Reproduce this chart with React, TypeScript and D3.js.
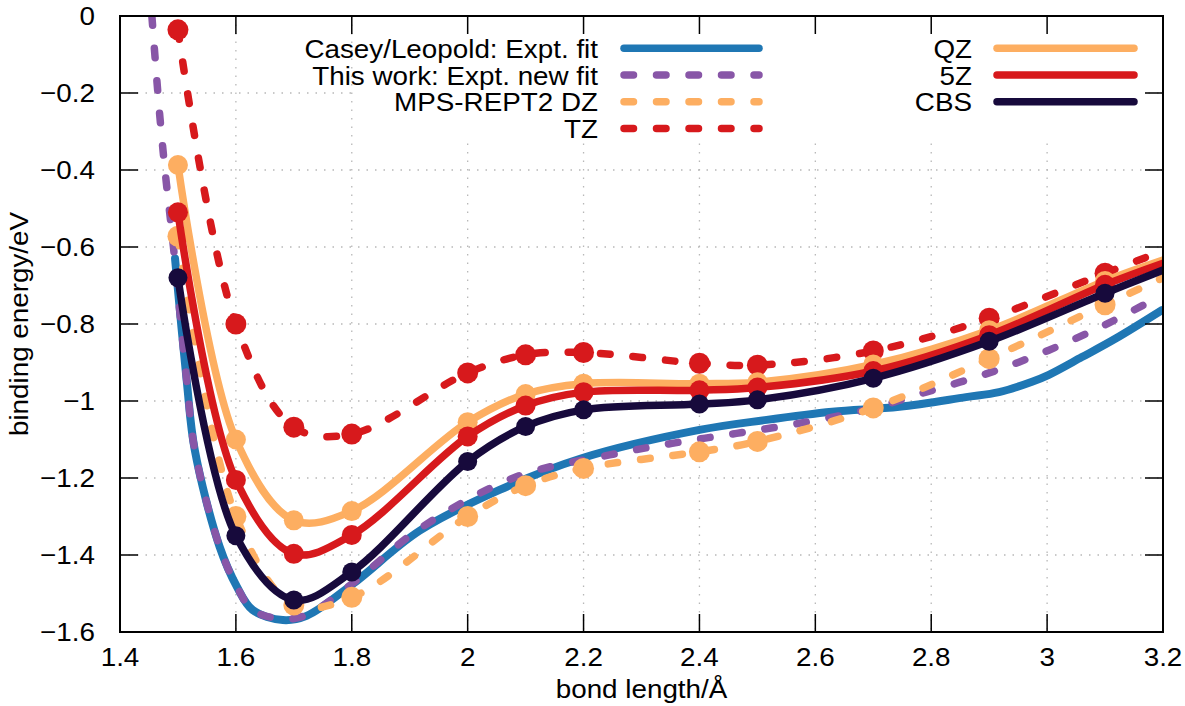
import * as d3 from "d3";

// bond lengths (Å) where the MPS-REPT2 energies were computed
const bondLengths = [1.5, 1.6, 1.7, 1.8, 2.0, 2.1, 2.2, 2.4, 2.5, 2.7, 2.9, 3.1];

// binding energies (eV) for each basis set
const dzEnergies = [-0.572, -1.3, -1.53, -1.51, -1.3, -1.22, -1.175, -1.132, -1.105, -1.018, -0.89, -0.75];
const tzEnergies = [-0.036, -0.8, -1.068, -1.086, -0.927, -0.88, -0.874, -0.902, -0.907, -0.87, -0.785, -0.668];
const qzEnergies = [-0.387, -1.1, -1.31, -1.286, -1.055, -0.982, -0.955, -0.955, -0.951, -0.905, -0.816, -0.688];
const fiveZEnergies = [-0.51, -1.205, -1.397, -1.348, -1.092, -1.012, -0.977, -0.972, -0.965, -0.922, -0.829, -0.698];
const cbsEnergies = [-0.68, -1.35, -1.517, -1.444, -1.157, -1.066, -1.023, -1.008, -0.997, -0.941, -0.845, -0.72];

// where the smooth curves end on the right border (x = 3.2)
const curveEndX = 3.2;
const dzEnd = -0.68;
const tzEnd = -0.61;
const qzEnd = -0.634;
const fiveZEnd = -0.642;
const cbsEnd = -0.66;

const caseyFit: [number, number][] = [
  [1.495, -0.63], [1.515, -0.945], [1.529, -1.127], [1.572, -1.379], [1.602, -1.483],
  [1.629, -1.543], [1.681, -1.569], [1.722, -1.558], [1.802, -1.475], [1.917, -1.337],
  [2.055, -1.231], [2.198, -1.148], [2.4, -1.075], [2.516, -1.049], [2.629, -1.028],
  [2.745, -1.015], [2.86, -0.99], [2.917, -0.977], [2.974, -0.95], [3.003, -0.932],
  [3.06, -0.886], [3.119, -0.837], [3.198, -0.764],
];
const newFit: [number, number][] = [
  [1.455, 0], [1.469, -0.265], [1.48, -0.434], [1.491, -0.582], [1.515, -0.945],
  [1.529, -1.127], [1.572, -1.379], [1.602, -1.483], [1.629, -1.543], [1.681, -1.566],
  [1.722, -1.556], [1.802, -1.473], [1.917, -1.332], [2.084, -1.197], [2.245, -1.14],
  [2.353, -1.11], [2.464, -1.084], [2.572, -1.058], [2.688, -1.023], [2.791, -0.977],
  [2.9, -0.927], [3.003, -0.868], [3.107, -0.797], [3.198, -0.725],
];

const xTicks = [1.4, 1.6, 1.8, 2.0, 2.2, 2.4, 2.6, 2.8, 3.0, 3.2];
const yTicks = [0, -0.2, -0.4, -0.6, -0.8, -1.0, -1.2, -1.4, -1.6];

const BLUE = "#1f77b4";
const PURPLE = "#8856a7";
const ORANGE = "#fdae61";
const RED = "#d7191c";
const NAVY = "#170a3c";

const FONT = "'Liberation Sans', Arial, Helvetica, sans-serif";
const FS = 26;
const STRETCH = 1.07;

const W = 1185;
const H = 706;
const left = 120, right = 1163, top = 16, bottom = 632;

const x = d3.scaleLinear().domain([1.4, 3.2]).range([left, right]);
const y = d3.scaleLinear().domain([-1.6, 0]).range([bottom, top]);

const line = d3.line<[number, number]>()
  .x(d => x(d[0]))
  .y(d => y(d[1]))
  .curve(d3.curveCatmullRom.alpha(0.5));

const zip = (xs: number[], ys: number[]) => xs.map((v, i) => [v, ys[i]] as [number, number]);
const withEnd = (ys: number[], end: number) => [...zip(bondLengths, ys), [curveEndX, end] as [number, number]];

function fmtX(v: number) {
  return String(+v.toFixed(1));
}
function fmtY(v: number) {
  if (v === 0) return "0";
  return "\u2212" + String(+Math.abs(v).toFixed(1));
}

function Txt({ x: tx, y: ty, anchor = "start", rotate = 0, children }: any) {
  return (
    <text
      transform={`translate(${tx},${ty}) rotate(${rotate}) scale(${STRETCH},1)`}
      textAnchor={anchor}
      fontFamily={FONT}
      fontSize={FS}
      fill="#000"
    >
      {children}
    </text>
  );
}

const DASH = "9.5 23";

const models = [
  { name: "MPS-REPT2 DZ", color: ORANGE, dashed: true, pts: dzEnergies, end: dzEnd, r: 10.5 },
  { name: "TZ", color: RED, dashed: true, pts: tzEnergies, end: tzEnd, r: 10.5 },
  { name: "QZ", color: ORANGE, dashed: false, pts: qzEnergies, end: qzEnd, r: 10 },
  { name: "5Z", color: RED, dashed: false, pts: fiveZEnergies, end: fiveZEnd, r: 10 },
  { name: "CBS", color: NAVY, dashed: false, pts: cbsEnergies, end: cbsEnd, r: 9.5 },
];

const leftKey = [
  { name: "Casey/Leopold: Expt. fit", color: BLUE, dashed: false },
  { name: "This work: Expt. new fit", color: PURPLE, dashed: true },
  { name: "MPS-REPT2 DZ", color: ORANGE, dashed: true },
  { name: "TZ", color: RED, dashed: true },
];
const rightKey = [
  { name: "QZ", color: ORANGE, dashed: false },
  { name: "5Z", color: RED, dashed: false },
  { name: "CBS", color: NAVY, dashed: false },
];

export default function App() {
  const tick = 18;
  const rowY = (i: number) => 48.3 + i * 26.7;
  return (
    <svg
      width={W}
      height={H}
      style={{ position: "absolute", left: 0, top: 0, background: "#fff" }}
    >
      <defs>
        <clipPath id="plot-clip">
          <rect x={left} y={top} width={right - left} height={bottom - top} />
        </clipPath>
      </defs>
      <rect x={0} y={0} width={W} height={H} fill="#fff" />

      {/* grid */}
      <g stroke="#b8b8b8" strokeWidth={1.3} strokeDasharray="1.5 7">
        {xTicks.slice(1, -1).map(t => (
          <line key={"gx" + t} x1={x(t)} x2={x(t)} y1={top} y2={bottom} />
        ))}
        {yTicks.slice(1, -1).map(t => (
          <line key={"gy" + t} x1={left} x2={right} y1={y(t)} y2={y(t)} />
        ))}
      </g>

      {/* opaque key box */}
      <rect x={354} y={top + 1} width={1143 - 354} height={126} fill="#fff" />

      <g clipPath="url(#plot-clip)" fill="none" strokeLinecap="round" strokeLinejoin="round">
        <path d={line(caseyFit) || ""} stroke={BLUE} strokeWidth={8} />
        <path d={line(newFit) || ""} stroke={PURPLE} strokeWidth={7.5} strokeDasharray={DASH} />
        {models.map(m => (
          <g key={m.name}>
            <path
              d={line(withEnd(m.pts, m.end)) || ""}
              stroke={m.color}
              strokeWidth={7.5}
              strokeDasharray={m.dashed ? DASH : undefined}
            />
            {zip(bondLengths, m.pts).map(([bx, e]) => (
              <circle key={bx} cx={x(bx)} cy={y(e)} r={m.r} fill={m.color} stroke="none" />
            ))}
          </g>
        ))}
      </g>

      {/* key */}
      <g strokeLinecap="round" fill="none">
        {leftKey.map((k, i) => (
          <g key={k.name}>
            <line x1={624} x2={759} y1={rowY(i)} y2={rowY(i)} stroke={k.color} strokeWidth={7.5}
              strokeDasharray={k.dashed ? DASH : undefined} />
          </g>
        ))}
        {rightKey.map((k, i) => (
          <line key={k.name} x1={997} x2={1134} y1={rowY(i)} y2={rowY(i)} stroke={k.color} strokeWidth={7.5} />
        ))}
      </g>
      {leftKey.map((k, i) => (
        <Txt key={k.name} x={598} y={rowY(i) + 9.5} anchor="end">{k.name}</Txt>
      ))}
      {rightKey.map((k, i) => (
        <Txt key={k.name} x={972} y={rowY(i) + 9.5} anchor="end">{k.name}</Txt>
      ))}

      {/* ticks */}
      <g stroke="#000" strokeWidth={1.5}>
        {xTicks.map(t => (
          <g key={"tx" + t}>
            <line x1={x(t)} x2={x(t)} y1={bottom} y2={bottom - tick} />
            <line x1={x(t)} x2={x(t)} y1={top} y2={top + tick} />
          </g>
        ))}
        {yTicks.map(t => (
          <g key={"ty" + t}>
            <line x1={left} x2={left + tick} y1={y(t)} y2={y(t)} />
            <line x1={right} x2={right - tick} y1={y(t)} y2={y(t)} />
          </g>
        ))}
      </g>
      <rect x={left} y={top} width={right - left} height={bottom - top} fill="none" stroke="#000" strokeWidth={2} />

      {/* tick labels */}
      {xTicks.map(t => (
        <Txt key={"lx" + t} x={x(t)} y={bottom + 34} anchor="middle">{fmtX(t)}</Txt>
      ))}
      {yTicks.map(t => (
        <Txt key={"ly" + t} x={95} y={y(t) + 9.2} anchor="end">{fmtY(t)}</Txt>
      ))}

      {/* axis titles */}
      <Txt x={(left + right) / 2} y={698} anchor="middle">bond length/Å</Txt>
      <Txt x={28} y={(top + bottom) / 2} anchor="middle" rotate={-90}>binding energy/eV</Txt>
    </svg>
  );
}
